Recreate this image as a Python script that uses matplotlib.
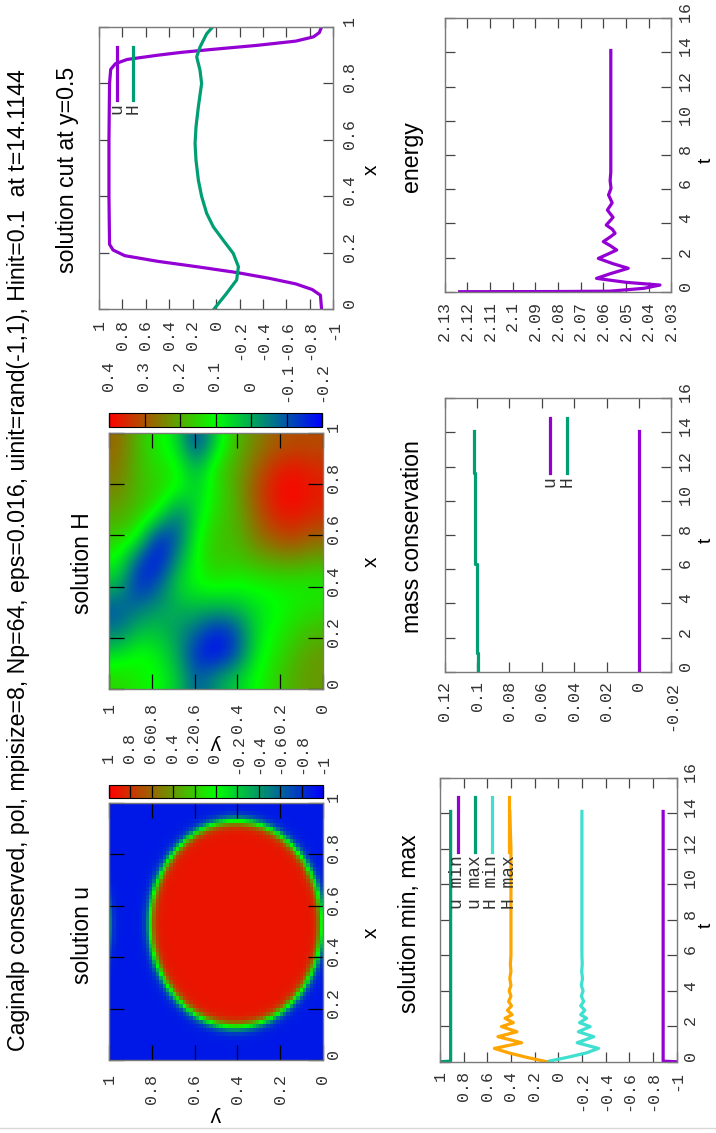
# Caginalp conserved run, gnuplot page rotated (landscape printed sideways)
import numpy as np
import matplotlib
matplotlib.use("Agg")
import matplotlib.pyplot as plt
from matplotlib.colors import LinearSegmentedColormap
from matplotlib.lines import Line2D

W, H = 716, 1133

# ---- data ----
title = "Caginalp conserved, pol, mpisize=8, Np=64, eps=0.016, uinit=rand(-1,1), Hinit=0.1  at t=14.1144"

# cut at y=0.5
cut_x_u = [0, 0.05, 0.07, 0.09, 0.11, 0.13, 0.15, 0.17, 0.19, 0.21, 0.23, 0.4, 0.6, 0.8, 0.85,
           0.87, 0.885, 0.9, 0.91, 0.92, 0.935, 0.95, 0.965, 0.98, 1.0]
cut_u = [-0.9, -0.89, -0.82, -0.68, -0.45, -0.18, 0.15, 0.5, 0.78, 0.88, 0.91, 0.915, 0.915, 0.91, 0.9,
         0.86, 0.76, 0.5, 0.3, 0.05, -0.35, -0.68, -0.83, -0.88, -0.9]
cut_x_h = [0, 0.057, 0.104, 0.151, 0.198, 0.245, 0.292, 0.34, 0.40, 0.458, 0.528, 0.587, 0.646,
           0.717, 0.80, 0.847, 0.894, 0.929, 0.976, 1.0]
cut_h = [0.02, -0.09, -0.175, -0.19, -0.146, -0.06, 0.024, 0.081, 0.124, 0.152, 0.172, 0.18, 0.172,
         0.152, 0.124, 0.138, 0.166, 0.138, 0.081, 0.03]

# energy
t_energy = [0, 0.01, 0.03, 0.2, 0.39, 0.55, 0.78, 1.05, 1.37, 1.65, 1.95, 2.2, 2.44, 2.7, 2.93, 3.2,
            3.42, 3.65, 3.9, 4.35, 4.78, 5.2, 5.66, 6.05, 6.5, 7.0, 14.1144]
energy = [2.1234, 2.081, 2.057, 2.042, 2.035, 2.05, 2.063, 2.057, 2.049, 2.056, 2.0622, 2.058, 2.0541,
          2.057, 2.06, 2.057, 2.0548, 2.056, 2.0587, 2.0557, 2.0582, 2.0561, 2.0577, 2.0566, 2.057,
          2.0567, 2.0567]

# mass conservation
t_mass_u = [0, 14.1144]
mass_u = [-0.0003, -0.0003]
t_mass_h = [0, 1.1, 1.1, 6.3, 6.3, 11.6, 11.6, 14.1144]
mass_h = [0.0996, 0.0996, 0.1003, 0.1003, 0.1010, 0.1010, 0.1018, 0.1018]

# solution min, max
t_u_ext = [0, 0.03, 14.1144]
u_min = [-0.998, -0.887, -0.887]
u_max = [0.998, 0.91, 0.91]
t_h_ext = [0, 0.25, 0.5, 0.75, 1.07, 1.41, 1.69, 1.98, 2.2, 2.45, 2.65, 2.9, 3.15, 3.4, 3.7, 4.0,
           4.3, 4.7, 5.1, 5.5, 6.0, 12.0, 14.1144]
h_max = [0.10, 0.27, 0.42, 0.54, 0.31, 0.51, 0.35, 0.48, 0.38, 0.45, 0.39, 0.43, 0.395, 0.42, 0.40,
         0.415, 0.40, 0.41, 0.40, 0.405, 0.40, 0.40, 0.41]
h_min = [0.10, -0.08, -0.24, -0.34, -0.16, -0.30, -0.17, -0.27, -0.18, -0.24, -0.19, -0.225, -0.19,
         -0.215, -0.195, -0.21, -0.195, -0.205, -0.198, -0.203, -0.2, -0.2, -0.2]

# solution u: one drop (centre x, centre y, radius), interface width eps
u_cx, u_cy, u_r = 0.53, 0.407, 0.40
u_eps = 0.016
u_in, u_out = 0.915, -0.9
n_grid = 64

# solution H, coarse readings; rows x = 0 .. 1, columns y = 0 .. 1 (step 0.1)
h_rows = [
    [0.22, 0.20, 0.15, 0.10, 0.04, -0.02, -0.10, 0.04, 0.10, 0.12, 0.15],
    [0.22, 0.18, 0.13, 0.07, -0.12, -0.20, -0.16, 0.00, 0.08, 0.11, 0.06],
    [0.18, 0.15, 0.11, 0.05, -0.12, -0.17, -0.08, -0.02, 0.03, 0.02, -0.06],
    [0.14, 0.12, 0.09, 0.06, 0.02, 0.01, 0.02, 0.01, -0.02, -0.06, -0.10],
    [0.12, 0.12, 0.12, 0.11, 0.10, 0.12, 0.10, 0.05, -0.10, -0.17, 0.02],
    [0.20, 0.22, 0.21, 0.19, 0.16, 0.17, 0.11, -0.02, -0.20, -0.12, 0.10],
    [0.28, 0.32, 0.30, 0.25, 0.18, 0.17, 0.10, -0.10, -0.17, 0.10, 0.16],
    [0.35, 0.38, 0.36, 0.28, 0.19, 0.15, 0.06, -0.08, 0.10, 0.17, 0.20],
    [0.37, 0.40, 0.38, 0.30, 0.20, 0.13, 0.04, 0.10, 0.16, 0.18, 0.24],
    [0.35, 0.38, 0.35, 0.28, 0.20, 0.15, 0.00, 0.12, 0.14, 0.18, 0.26],
    [0.31, 0.31, 0.29, 0.24, 0.18, 0.05, -0.14, 0.06, 0.12, 0.18, 0.28],
]

unit_ticks = [0, 0.2, 0.4, 0.6, 0.8, 1]
pm1_ticks = [1, 0.8, 0.6, 0.4, 0.2, 0, -0.2, -0.4, -0.6, -0.8, -1]
t_ticks = [0, 2, 4, 6, 8, 10, 12, 14, 16]
energy_ticks = [2.13, 2.12, 2.11, 2.10, 2.09, 2.08, 2.07, 2.06, 2.05, 2.04, 2.03]
mass_ticks = [0.12, 0.10, 0.08, 0.06, 0.04, 0.02, 0, -0.02]
h_cb_ticks = [0.4, 0.3, 0.2, 0.1, 0, -0.1, -0.2]

PURPLE, GREEN, TURQ, ORANGE = "#9400d3", "#009e73", "#40e0d0", "#ffa500"
MONO = "Liberation Mono"
SANS = ["Liberation Sans", "DejaVu Sans"]
plt.rcParams["font.family"] = SANS
TICK_SIZE = 12

cmap = LinearSegmentedColormap.from_list("bgr", ["#0000ff", "#00ff00", "#ff0000"])


def lab(v, pad=True):
    # gnuplot "% h": positive numbers carry a leading blank
    v = round(float(v), 6) + 0.0
    s = f"{v:g}"
    return s if (s.startswith("-") or not pad) else " " + s


def rect(x0, y0, x1, y1):
    return [x0 / W, 1 - y1 / H, (x1 - x0) / W, (y1 - y0) / H]


def ftext(x, y, s, size, rot=90, **kw):
    return fig.text(x / W, 1 - y / H, s, rotation=rot, fontsize=size, **kw)


def side_axes(ax, vticks, tticks, vpad=7, tpad=6, tlen=7, tcol="#444444"):
    # horizontal = plotted value (decreasing to the right), vertical = x or t
    ax.set_xticks(vticks, [lab(v, False) for v in vticks], rotation=90, fontfamily=MONO)
    ax.set_yticks(tticks, [lab(v) for v in tticks], rotation=90, va="center", fontfamily=MONO)
    ax.tick_params(direction="in", length=tlen, width=0.9, color=tcol, labelsize=TICK_SIZE,
                   labelcolor="#333333", top=True, bottom=True, left=True, right=True,
                   labelleft=False, labelright=True)
    ax.tick_params(axis="x", pad=vpad)
    ax.tick_params(axis="y", pad=tpad)
    for sp in ax.spines.values():
        sp.set_color("#7a7a7a")
        sp.set_linewidth(1.0)


fig = plt.figure(figsize=(W / 100, H / 100), dpi=100)

# ---- solution cut at y=0.5 ----
ax = fig.add_axes(rect(99, 27, 333.3, 309.3))
ax.plot(cut_u, cut_x_u, color=PURPLE, lw=2.3)
ax.plot(cut_h, cut_x_h, color=GREEN, lw=2.3)
ax.set_xlim(1, -1)
ax.set_ylim(0, 1)
side_axes(ax, pm1_ticks, unit_ticks, vpad=7.5, tpad=7)

# ---- heatmaps ----
g = (np.arange(n_grid) + 0.5) / n_grid
gx, gy = np.meshgrid(g, g, indexing="ij")
dx = np.abs(gx - u_cx)
dy = np.abs(gy - u_cy)
dx = np.minimum(dx, 1 - dx)
dy = np.minimum(dy, 1 - dy)
dist = u_r - np.hypot(dx, dy)
u_field = (u_in + u_out) / 2 + (u_in - u_out) / 2 * np.tanh(dist / (np.sqrt(2) * u_eps))
h_field = np.array(h_rows)

heat = [
    (u_field, "nearest", -1, 1, pm1_ticks, (109, 803, 323, 1060), (109, 785, 323, 798)),
    (h_field, "bicubic", -0.2, 0.4, h_cb_ticks, (109, 433, 323, 689), (109, 413, 322, 427)),
]
for field, interp, lo, hi, cticks, box, cbox in heat:
    ax = fig.add_axes(rect(*box))
    im = ax.imshow(field, origin="lower", extent=(0, 1, 0, 1), cmap=cmap, vmin=lo, vmax=hi,
                   interpolation=interp, aspect="auto")
    ax.set_xlim(1, 0)
    ax.set_ylim(0, 1)
    side_axes(ax, unit_ticks[::-1], unit_ticks, vpad=10, tpad=3, tlen=11, tcol="black")
    cax = fig.add_axes(rect(*cbox))
    cb = fig.colorbar(im, cax=cax, orientation="horizontal", ticks=cticks)
    cb.minorticks_off()
    cax.invert_xaxis()
    cax.xaxis.set_ticks_position("both")
    cax.tick_params(axis="x", direction="in", length=5, width=0.9, color="black",
                    top=True, bottom=True, labeltop=True, labelbottom=False,
                    pad=8, labelsize=TICK_SIZE, labelcolor="#333333")
    cb.set_ticklabels([lab(v) for v in cticks], rotation=90, fontfamily=MONO)
    cb.outline.set_edgecolor("black")
    cb.outline.set_linewidth(0.8)

# ---- energy ----
ax = fig.add_axes(rect(444.7, 18.3, 671.3, 291.7))
ax.plot(energy, t_energy, color=PURPLE, lw=2.3)
ax.set_xlim(2.13, 2.03)
ax.set_ylim(0, 16)
side_axes(ax, energy_ticks, t_ticks, vpad=7, tpad=5.5)

# ---- mass conservation ----
ax = fig.add_axes(rect(444.7, 398.3, 671.3, 671.7))
ax.plot(mass_u, t_mass_u, color=PURPLE, lw=2.3)
ax.plot(mass_h, t_mass_h, color=GREEN, lw=2.3)
ax.set_xlim(0.12, -0.02)
ax.set_ylim(0, 16)
side_axes(ax, mass_ticks, t_ticks, vpad=7, tpad=5.5)

# ---- solution min, max ----
ax = fig.add_axes(rect(440, 778, 676.5, 1061.7))
ax.plot(u_min, t_u_ext, color=PURPLE, lw=2.3)
ax.plot(u_max, t_u_ext, color=GREEN, lw=2.3)
ax.plot(h_min, t_h_ext, color=TURQ, lw=2.3)
ax.plot(h_max, t_h_ext, color=ORANGE, lw=2.3)
ax.set_xlim(1, -1)
ax.set_ylim(0, 16)
side_axes(ax, pm1_ticks, t_ticks, vpad=7, tpad=5.5)

# ---- legends (drawn sideways like the page) ----
legends = [
    ([("u", PURPLE, 117), ("H", GREEN, 133)], 47, 100),
    ([("u", PURPLE, 550), ("H", GREEN, 567)], 418, 473),
    ([("u min", PURPLE, 458), ("u max", GREEN, 475), ("H min", TURQ, 492), ("H max", ORANGE, 509)],
     797, 852),
]
for items, y0, y1 in legends:
    for name, col, xp in items:
        fig.add_artist(Line2D([xp / W, xp / W], [1 - y0 / H, 1 - y1 / H], color=col, lw=2.3))
        ftext(xp, y1 + 3, name, 13, ha="center", va="top", fontfamily=MONO, color="#333333")

# ---- titles and axis labels ----
anchor = dict(rotation_mode="anchor", ha="center", va="baseline")
heads = [
    (25, 560, title, 986),
    (74, 170, "solution cut at y=0.5", 205),
    (89, 563, "solution H", 100),
    (89, 935, "solution u", 96),
    (418, 157, "energy", 69),
    (419, 537, "mass conservation", 191),
    (416, 924, "solution min, max", 178),
]
fitted = [(ftext(xb, yc, s, 15, **anchor), span) for xb, yc, s, span in heads]
for yc in (170, 562, 933):
    ftext(377, yc, "x", 15, **anchor)
for yc in (160, 540, 925):
    ftext(711, yc, "t", 14, **anchor)
for yc in (743, 1116):
    ftext(217, yc, "y", 15, rot=180, ha="center", va="center")

# scale the sideways headings to the lengths they have on the page
fig.canvas.draw()
rend = fig.canvas.get_renderer()
for txt, span in fitted:
    ext = txt.get_window_extent(rend)
    txt.set_fontsize(txt.get_fontsize() * (span + 2) / ext.height)

fig.add_artist(Line2D([0, 1], [1 - 1127.5 / H] * 2, color="#d8d8d8", lw=1))

fig.savefig("out.png", dpi=100, facecolor="white")
